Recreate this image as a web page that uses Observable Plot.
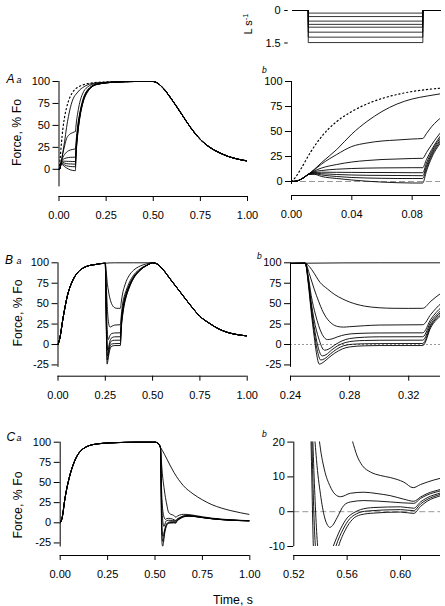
<!DOCTYPE html>
<html><head><meta charset="utf-8">
<script src="https://cdn.jsdelivr.net/npm/d3@7"></script>
<script src="https://cdn.jsdelivr.net/npm/@observablehq/plot@0.6"></script>
<style>
html,body{margin:0;padding:0;background:#fff;}
#fig{position:relative;width:445px;height:606px;overflow:hidden;}
.pnl{position:absolute;}
.pnl svg{display:block;overflow:visible;}
</style></head><body><div id="fig"></div>
<script>
// ---------- tick labels ----------
const xTicksFull = [0, 0.25, 0.5, 0.75, 1];
const xTicksAb = [0, 0.04, 0.08];
const xTicksBb = [0.24, 0.28, 0.32];
const xTicksCb = [0.52, 0.56, 0.60];
const yTicksA = [0, 25, 50, 75, 100];
const yTicksBC = [-25, 0, 25, 50, 75, 100];
const yTicksCb = [-10, 0, 10, 20];
const insetTicks = [0, 1.5];
// axis line extents (force units)
const yLineAa = [-20, 100], yLineAb = [-3, 100], yLineB = [-28, 100], yLineCa = [-30, 100], yLineCb = [-10, 20];

// ---------- inset: shortening velocity steps (L s-1) ----------
const insetTimes = [0.0009, 0.0111, 0.0871, 0.0988];
const insetVel = [0.12, 0.28, 0.49, 0.64, 0.77, 1.0, 1.23, 1.48];

// ---------- series A (time s, force % Fo) ----------
const A_dotted = [[0,0],[0.002,3],[0.006,12],[0.0125,29],[0.02,45],[0.03,60],[0.04,70],[0.05,77.5],[0.06,83],[0.07,87],[0.08,90],[0.09,92],[0.1,93.5],[0.125,96],[0.15,97.5],[0.2,99],[0.3,99.7],[0.4,100]];
const A_start = [[0,0],[0.003,0.3],[0.006,2],[0.009,4.8],[0.011,7]];
const A_S1 = [[0.015,12],[0.02,19],[0.03,32],[0.04,47.5],[0.05,60],[0.06,70],[0.07,77.5],[0.08,82.5],[0.09,85.5],[0.1,88],[0.11,90.5],[0.125,93],[0.15,96],[0.2,98.5],[0.3,99.6],[0.4,100]];
const A_S2 = [[0.015,11.5],[0.02,17.5],[0.03,27],[0.04,35],[0.05,38.5],[0.06,40.5],[0.07,41.5],[0.08,42.5],[0.087,43],[0.0895,48],[0.093,55],[0.1,65],[0.11,76],[0.125,86],[0.15,93.5],[0.2,98],[0.3,99.5],[0.4,100]];
const A_S3 = [[0.015,10.5],[0.02,13.5],[0.03,17],[0.04,19.5],[0.05,21],[0.06,22],[0.07,22.5],[0.08,23],[0.087,23.2],[0.0895,29],[0.093,37],[0.1,51],[0.11,64],[0.125,78],[0.15,90],[0.2,97],[0.3,99.4],[0.4,100]];
const A_S4 = [[0.015,9.8],[0.02,11],[0.03,12.3],[0.04,13],[0.05,13.4],[0.06,13.6],[0.07,13.7],[0.08,13.8],[0.087,13.8],[0.0895,22],[0.093,32],[0.1,48],[0.11,62],[0.125,77],[0.15,89.5],[0.2,97],[0.3,99.4],[0.4,100]];
const A_S5 = [[0.015,9],[0.02,9.3],[0.03,9.2],[0.04,9.1],[0.05,9],[0.06,9],[0.07,8.9],[0.08,8.8],[0.087,8.8],[0.0895,18.5],[0.093,30],[0.1,46],[0.11,61],[0.125,76],[0.15,89],[0.2,96.8],[0.3,99.3],[0.4,100]];
const A_S6 = [[0.015,8.3],[0.02,7.8],[0.03,7],[0.04,6.5],[0.05,6.2],[0.06,6.1],[0.07,6],[0.08,5.9],[0.087,5.8],[0.0895,15.5],[0.093,28],[0.1,44],[0.11,60],[0.125,75.5],[0.15,88.5],[0.2,96.7],[0.3,99.3],[0.4,100]];
const A_S7 = [[0.015,7.8],[0.02,6.5],[0.03,5],[0.04,4],[0.05,3.5],[0.06,3.2],[0.07,3],[0.08,3],[0.087,3],[0.0895,13],[0.093,26],[0.1,42.5],[0.11,59],[0.125,75],[0.15,88],[0.2,96.6],[0.3,99.3],[0.4,100]];
const A_S8 = [[0.015,7.2],[0.02,5],[0.03,3],[0.04,1.5],[0.05,0.3],[0.06,-0.6],[0.07,-1.2],[0.08,-1.5],[0.087,-1.5],[0.0895,10.5],[0.093,24],[0.1,41],[0.11,58],[0.125,74],[0.15,87.5],[0.2,96.5],[0.3,99.3],[0.4,100]];
const A_decay = [[0.5,100],[0.52,98.5],[0.55,93],[0.6,79],[0.65,63],[0.7,47],[0.75,34],[0.8,25],[0.85,19],[0.9,14.5],[0.95,11.5],[1.0,9.5]];

// ---------- series B ----------
const B_rise = [[0,0],[0.01,8],[0.025,30],[0.05,60],[0.075,77],[0.1,87],[0.125,92.5],[0.15,95.5],[0.2,98],[0.25,99.5]];
const B_isoMid = [[0.3,100],[0.4,100]];
const B_C1 = [[0.252,97],[0.255,90],[0.26,76],[0.265,68],[0.27,61],[0.275,56],[0.28,52],[0.29,47],[0.3,45],[0.31,44.3],[0.32,44.2],[0.3295,44.3],[0.335,53],[0.342,63],[0.35,70],[0.36,77],[0.375,84],[0.4,91],[0.425,95],[0.45,97.5],[0.475,99]];
const B_C2 = [[0.253,85],[0.256,68],[0.259,53],[0.262,40],[0.265,31],[0.268,25.5],[0.272,22],[0.276,21.3],[0.28,21.8],[0.29,23],[0.3,23.8],[0.3295,24.2],[0.335,37],[0.342,50.5],[0.35,59],[0.36,66],[0.375,75],[0.4,85],[0.425,91],[0.45,95],[0.475,97.5]];
const B_C3 = [[0.252,84],[0.254,60],[0.257,36],[0.261,14],[0.265,6],[0.268,6.8],[0.272,9.5],[0.277,12],[0.285,13.5],[0.3,14.1],[0.3295,14.3],[0.335,31],[0.342,45.5],[0.35,55],[0.36,63],[0.375,72],[0.4,83],[0.425,90],[0.45,94.5],[0.475,97.5]];
const B_C4 = [[0.252,81],[0.254,52],[0.256,30],[0.259,8],[0.263,-7],[0.266,-5.5],[0.27,-0.5],[0.275,4.5],[0.28,7.3],[0.29,8.9],[0.3,9.4],[0.3295,9.5],[0.335,28],[0.342,42],[0.35,53],[0.36,61.5],[0.375,71],[0.4,82.5],[0.425,89.5],[0.45,94.5],[0.475,97.5]];
const B_C5 = [[0.252,79],[0.254,48],[0.256,22],[0.2585,-2],[0.2615,-14],[0.264,-12.5],[0.268,-6.5],[0.272,-1.5],[0.277,2.3],[0.283,4.2],[0.29,4.9],[0.3,5.2],[0.3295,5.3],[0.335,25],[0.342,40],[0.35,51],[0.36,60],[0.375,70],[0.4,82],[0.425,89],[0.45,94],[0.475,97.5]];
const B_C6 = [[0.252,77],[0.254,44],[0.256,16],[0.258,-6],[0.2605,-19],[0.263,-17.5],[0.267,-11.5],[0.271,-6],[0.276,-1.5],[0.282,0.3],[0.29,0.9],[0.3,1.1],[0.3295,1.2],[0.335,23],[0.342,38],[0.35,49.5],[0.36,59],[0.375,69],[0.4,81.5],[0.425,89],[0.45,94],[0.475,97.5]];
const B_C7 = [[0.252,75],[0.254,40],[0.256,10],[0.2575,-10],[0.2595,-24],[0.262,-22],[0.266,-16],[0.27,-10.5],[0.275,-5.5],[0.28,-3],[0.29,-1.6],[0.3,-1.3],[0.3295,-1.3],[0.335,21],[0.342,36],[0.35,48],[0.36,58],[0.375,68.5],[0.4,81],[0.425,88.5],[0.45,94],[0.475,97.5]];
const B_decay = [[0.5,100],[0.52,99],[0.55,93],[0.6,78],[0.65,63],[0.7,48],[0.75,34.5],[0.8,26],[0.85,19],[0.9,14.5],[0.95,12],[1.0,10.5]];

// ---------- series C ----------
const C_rise = [[0,0],[0.01,6],[0.025,30],[0.05,58],[0.075,76],[0.1,87],[0.125,92.5],[0.15,95.5],[0.2,98],[0.25,99],[0.3,99.5],[0.4,100],[0.5,100],[0.51,99.5],[0.52,97.5]];
const C_isoTail = [[0.528,94],[0.55,85],[0.563,79],[0.6,62.5],[0.65,46],[0.7,36],[0.75,28.5],[0.8,22.5],[0.85,18.3],[0.9,15.1],[0.95,12.5],[1.0,10.3]];
const C_K1 = [[0.529,93],[0.535,72],[0.54,58],[0.545,48],[0.55,39.5],[0.555,31.5],[0.56,25],[0.5638,20.5],[0.5675,16],[0.5713,13.3],[0.5775,11.4],[0.585,10.4],[0.5925,9.8],[0.6025,8.5],[0.6095,6.9],[0.615,7.8],[0.62,8.5],[0.63,9.6],[0.65,10.5],[0.675,10.3],[0.7,9.5],[0.75,7.5],[0.8,5.8],[0.85,4.6],[0.9,3.7],[0.95,3.1],[1.0,2.7]];
const C_K2 = [[0.529,93],[0.531,76],[0.533,56],[0.535,40],[0.537,29],[0.539,21],[0.543,12],[0.547,7.5],[0.551,5],[0.555,4.3],[0.5625,5.3],[0.5725,5.6],[0.5825,5.2],[0.5925,4.6],[0.6025,3.6],[0.61,3.0],[0.615,4.2],[0.62,5.2],[0.63,6.4],[0.65,8.6],[0.675,9],[0.7,8.5],[0.75,6.8],[0.8,5.3],[0.85,4.2],[0.9,3.4],[0.95,2.9],[1.0,2.6]];
const C_K3 = [[0.529,93],[0.531,72],[0.533,46],[0.535,26],[0.537,15],[0.54,5],[0.543,-1.5],[0.5455,-4],[0.547,-4.5],[0.549,-4],[0.5525,-1.7],[0.5575,1.8],[0.5625,2.8],[0.5725,3.2],[0.5925,2.8],[0.61,2.4],[0.615,3.8],[0.62,4.8],[0.63,6.0],[0.65,8.2],[0.675,8.8],[0.7,8.3],[0.75,6.7],[0.8,5.2],[0.85,4.1],[0.9,3.3],[0.95,2.8],[1.0,2.5]];
const C_K4 = [[0.529,93],[0.531,68],[0.533,38],[0.5345,18],[0.536,3],[0.5375,-8],[0.54,-15],[0.543,-16.5],[0.546,-13.5],[0.5495,-10],[0.555,-5],[0.56,-1.8],[0.565,-0.3],[0.57,0.6],[0.58,1.2],[0.6,1.4],[0.61,1.0],[0.615,2.8],[0.62,4.0],[0.63,5.4],[0.65,7.8],[0.675,8.6],[0.7,8.2],[0.75,6.6],[0.8,5.1],[0.85,4.0],[0.9,3.3],[0.95,2.8],[1.0,2.5]];
const C_K5 = [[0.529,93],[0.531,64],[0.533,30],[0.534,14],[0.535,0],[0.5365,-12],[0.539,-21],[0.542,-23],[0.546,-18],[0.5515,-10],[0.557,-5],[0.562,-2],[0.567,-0.6],[0.575,0.2],[0.6,0.6],[0.61,0.3],[0.615,2.2],[0.62,3.5],[0.63,5.0],[0.65,7.5],[0.675,8.4],[0.7,8.1],[0.75,6.5],[0.8,5.0],[0.85,4.0],[0.9,3.2],[0.95,2.7],[1.0,2.4]];
const C_K6 = [[0.529,93],[0.531,60],[0.5325,28],[0.5335,10],[0.5345,-8],[0.536,-20],[0.538,-27],[0.541,-29],[0.545,-24],[0.55,-15],[0.5535,-10],[0.559,-5],[0.564,-2.2],[0.57,-0.9],[0.58,-0.4],[0.6,-0.1],[0.61,-0.5],[0.615,1.5],[0.62,3.0],[0.63,4.6],[0.65,7.2],[0.675,8.2],[0.7,8.0],[0.75,6.4],[0.8,5.0],[0.85,3.9],[0.9,3.2],[0.95,2.7],[1.0,2.4]];

// ---------- assemble traces ----------
const A_solid = [A_S1, A_S2, A_S3, A_S4, A_S5, A_S6, A_S7, A_S8].map(s => [...A_start, ...s, ...A_decay]);
const A_dot = [...A_dotted, ...A_decay];
const B_traces = [[...B_rise, ...B_isoMid, ...B_decay],
  ...[B_C1, B_C2, B_C3, B_C4, B_C5, B_C6, B_C7].map(s => [...B_rise, ...s, ...B_decay])];
const C_traces = [[...C_rise, ...C_isoTail],
  ...[C_K1, C_K2, C_K3, C_K4, C_K5, C_K6].map(s => [...C_rise, ...s])];

const FONT = '"Liberation Sans", Arial, Helvetica, sans-serif';
const fig = document.getElementById("fig");

function place(svg, left, top) {
  const d = document.createElement("div");
  d.className = "pnl";
  d.style.left = left + "px";
  d.style.top = top + "px";
  d.appendChild(svg);
  fig.appendChild(d);
}

function panel(c) {
  const yDomain = [(c.y0 - c.Yclip) / c.k, (c.y0 - c.Yt) / c.k];
  const off = c.Yb - c.Yclip;
  const marks = [];
  if (c.zero) marks.push(Plot.ruleY([0], {stroke: "#8c8c8c", strokeWidth: 0.9, strokeDasharray: c.zero}));
  for (const tr of c.solid) marks.push(Plot.line(tr, {x: d => d[0], y: d => d[1], curve: "monotone-x", stroke: "#000", strokeWidth: 0.9, clip: true}));
  if (c.dotted) marks.push(Plot.line(c.dotted, {x: d => d[0], y: d => d[1], curve: "monotone-x", stroke: "#000", strokeWidth: 1.2, strokeDasharray: "1.2,2.8", clip: true}));
  marks.push(Plot.ruleX([{x: c.xDomain[0], y1: c.yLine[0], y2: c.yLine[1]}], {x: "x", y1: "y1", y2: "y2", stroke: "#000", strokeWidth: 1}));
  marks.push(Plot.axisY({ticks: c.yTicks, tickSize: 6, tickPadding: 3, tickFormat: d => String(d), label: null, fontSize: 11}));
  marks.push(Plot.ruleY([yDomain[0]], {dy: off, stroke: "#000", strokeWidth: 1}));
  marks.push(Plot.axisX({ticks: c.xTicks, tickSize: 5, tickPadding: 10, tickFormat: d3.format(".2f"), label: null, fontSize: 11, dy: off}));
  const svg = Plot.plot({
    width: c.width, height: c.height,
    marginLeft: c.X0 - c.left, marginRight: c.left + c.width - c.X1,
    marginTop: c.Yt - c.top, marginBottom: c.top + c.height - c.Yclip,
    x: {domain: c.xDomain}, y: {domain: yDomain},
    style: {background: "transparent", color: "#000", fontFamily: FONT, fontSize: "11px", overflow: "visible"},
    marks
  });
  place(svg, c.left, c.top);
}

// A
panel({left: 0, top: 60, width: 262, height: 172, X0: 58.5, X1: 247, xDomain: [0, 1], y0: 168.8, k: 0.878, Yt: 77, Yclip: 196, Yb: 196,
  yTicks: yTicksA, xTicks: xTicksFull, yLine: yLineAa, solid: A_solid, dotted: A_dot});
panel({left: 250, top: 60, width: 195, height: 172, X0: 291, X1: 440, xDomain: [0, 0.0988], y0: 181, k: 1.0, Yt: 77, Yclip: 195, Yb: 195,
  yTicks: yTicksA, xTicks: xTicksAb, yLine: yLineAb, solid: A_solid, dotted: A_dot, zero: "6,3"});
// B
panel({left: 0, top: 245, width: 262, height: 165, X0: 57.5, X1: 246.7, xDomain: [0, 1], y0: 344, k: 0.817, Yt: 258, Yclip: 375.7, Yb: 375.7,
  yTicks: yTicksBC, xTicks: xTicksFull, yLine: yLineB, solid: B_traces});
panel({left: 250, top: 245, width: 195, height: 165, X0: 290, X1: 440, xDomain: [0.24, 0.3415], y0: 344, k: 0.817, Yt: 258, Yclip: 375.7, Yb: 375.7,
  yTicks: yTicksBC, xTicks: xTicksBb, yLine: yLineB, solid: B_traces, zero: "2,2"});
// C
panel({left: 0, top: 425, width: 262, height: 168, X0: 59.7, X1: 249.3, xDomain: [0, 1], y0: 522.3, k: 0.806, Yt: 437, Yclip: 555, Yb: 555,
  yTicks: yTicksBC, xTicks: xTicksFull, yLine: yLineCa, solid: C_traces});
panel({left: 250, top: 425, width: 195, height: 168, X0: 293.3, X1: 440, xDomain: [0.52, 0.63], y0: 511.2, k: 3.48, Yt: 441.6, Yclip: 546, Yb: 555,
  yTicks: yTicksCb, xTicks: xTicksCb, yLine: yLineCb, solid: C_traces, zero: "6,3"});

// inset
(function () {
  const left = 250, top = 0, width = 195, height = 55, X0 = 291, X1 = 440, v0 = 10, kv = 21.67, Yt = 6, Ybot = 46;
  const steps = insetVel.map(v => [[insetTimes[0], 0], [insetTimes[1], 0], [insetTimes[1], v], [insetTimes[2], v], [insetTimes[2], 0], [insetTimes[3], 0]]);
  const marks = steps.map(s => Plot.line(s, {x: d => d[0], y: d => d[1], stroke: "#000", strokeWidth: 0.8}));
  marks.push(Plot.axisY({ticks: insetTicks, tickSize: 3.5, tickPadding: 4, dx: -3.3, tickFormat: d => String(d), label: null, fontSize: 11}));
  const svg = Plot.plot({
    width, height, marginLeft: X0 - left, marginRight: left + width - X1, marginTop: Yt - top, marginBottom: top + height - Ybot,
    x: {domain: [0, 0.0988], axis: null},
    y: {domain: [(Yt - v0) / kv, (Ybot - v0) / kv], reverse: true},
    style: {background: "transparent", color: "#000", fontFamily: FONT, fontSize: "11px", overflow: "visible"},
    marks
  });
  place(svg, left, top);
})();

// text overlay
const ov = d3.select(fig).append("svg").attr("width", 445).attr("height", 606)
  .style("position", "absolute").style("left", "0px").style("top", "0px").style("pointer-events", "none")
  .style("font-family", FONT);
function txt(x, y, s, size, opts = {}) {
  const t = ov.append("text").attr("x", x).attr("y", y).attr("font-size", size).attr("fill", "#000").text(s);
  if (opts.italic) t.attr("font-style", "italic");
  if (opts.anchor) t.attr("text-anchor", opts.anchor);
  return t;
}
function rot(x, y, s, size) {
  return ov.append("text").attr("transform", `translate(${x},${y}) rotate(-90)`).attr("text-anchor", "middle")
    .attr("font-size", size).attr("fill", "#000").text(s);
}
const letters = [["A", 6.5, 83.3, 72.5, 262], ["B", 5, 264, 258.5, 257], ["C", 6.5, 441, 436.5, 262]];
for (const [L, x, y, yb, xb] of letters) {
  txt(x, y, L, 12, {italic: true});
  txt(16.5, y, "a", 9, {italic: true});
  txt(xb, yb, "b", 8.5, {italic: true});
}
rot(21, 132.5, "Force, % Fo", 12.3);
rot(22, 313, "Force, % Fo", 12.3);
rot(22, 505, "Force, % Fo", 12.3);
txt(233, 604, "Time, s", 12.3, {anchor: "middle"});
const ls = ov.append("text").attr("transform", "translate(251.5,24) rotate(-90)").attr("text-anchor", "middle").attr("font-size", 11).attr("fill", "#000");
ls.append("tspan").text("L s");
ls.append("tspan").attr("dy", -4).attr("font-size", 7.5).text("-1");
</script></body></html>
